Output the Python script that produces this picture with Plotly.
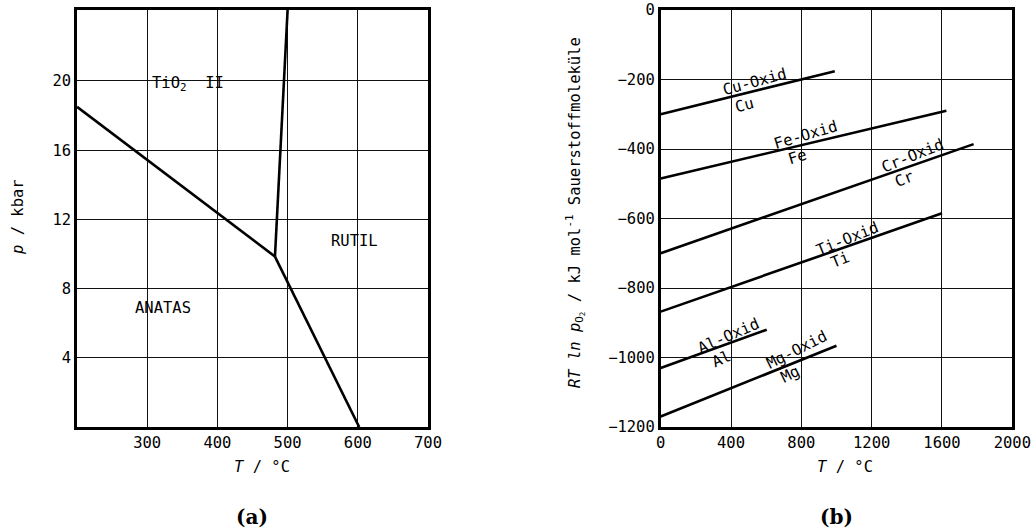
import plotly.graph_objects as go

# ---------------- data: panel (a) phase diagram TiO2 ----------------
a_line1_T = [200, 482]
a_line1_p = [18.5, 9.85]
a_line2_T = [482, 500]
a_line2_p = [9.85, 24.1]
a_line3_T = [482, 602]
a_line3_p = [9.85, 0]
a_xticks = [300, 400, 500, 600, 700]
a_yticks = [4, 8, 12, 16, 20]
a_labels = ["TiO<sub>2</sub>\u00a0\u00a0II", "RUTIL", "ANATAS"]
a_label_T = [358, 595, 322]
a_label_p = [19.8, 10.75, 6.9]

# ---------------- data: panel (b) Ellingham-type lines ----------------
b_names = ["Cu", "Fe", "Cr", "Ti", "Al", "Mg"]
b_T_start = [0, 0, 0, 0, 0, 0]
b_T_end = [990, 1625, 1780, 1600, 603, 1000]
b_y_start = [-300, -485, -700, -868, -1030, -1170]
b_y_end = [-176, -290, -386, -585, -920, -966]
b_oxid_T = [532, 826, 1431, 1061, 387, 773]
b_oxid_y = [-206, -360, -420, -660, -939, -977]
b_metal_T = [479, 777, 1389, 1020, 347, 741]
b_metal_y = [-272, -422, -487, -720, -1003, -1048]
b_angle = [-15, -16.5, -22, -21.8, -23.9, -26.8]
b_xticks = [0, 400, 800, 1200, 1600, 2000]
b_yticks = [0, -200, -400, -600, -800, -1000, -1200]

MONO = "DejaVu Sans Mono"
FS = 15.5
W, H = 1034, 532

fig = go.Figure()
lw = 2.6
for T, p in [(a_line1_T, a_line1_p), (a_line2_T, a_line2_p), (a_line3_T, a_line3_p)]:
    fig.add_trace(go.Scatter(x=T, y=p, mode="lines", line=dict(color="black", width=lw),
                             xaxis="x", yaxis="y", showlegend=False, hoverinfo="skip"))
for i in range(len(b_names)):
    fig.add_trace(go.Scatter(x=[b_T_start[i], b_T_end[i]], y=[b_y_start[i], b_y_end[i]],
                             mode="lines", line=dict(color="black", width=lw),
                             xaxis="x2", yaxis="y2", showlegend=False, hoverinfo="skip"))

ydom = [(H - 427) / H, (H - 10) / H]
xd1 = [77 / W, 428 / W]
xd2 = [660.7 / W, 1012.3 / W]

axis_common = dict(showline=True, linecolor="black", linewidth=2.6, mirror=True,
                   showgrid=True, gridcolor="#111", gridwidth=1, zeroline=False,
                   automargin=False, ticks="",
                   tickfont=dict(family=MONO, size=FS, color="black"))

fig.update_layout(
    template="none",
    width=W, height=H, margin=dict(l=0, r=0, t=0, b=0, autoexpand=False),
    paper_bgcolor="white", plot_bgcolor="white",
    font=dict(family=MONO, size=FS, color="black"),
    xaxis=dict(domain=xd1, range=[200, 700], tickvals=a_xticks, anchor="y", **axis_common),
    yaxis=dict(domain=ydom, range=[0, 24.1], tickvals=a_yticks, anchor="x", **axis_common),
    xaxis2=dict(domain=xd2, range=[0, 2000], tickvals=b_xticks, anchor="y2", **axis_common),
    yaxis2=dict(domain=ydom, range=[-1200, 0], tickvals=b_yticks, anchor="x2", **axis_common),
)

ann = []
for t, x, y in zip(a_labels, a_label_T, a_label_p):
    ann.append(dict(text=t, x=x, y=y, xref="x", yref="y", showarrow=False,
                    xanchor="center", yanchor="middle",
                    font=dict(family=MONO, size=FS, color="black")))
for i, n in enumerate(b_names):
    ann.append(dict(text=n + "-Oxid", x=b_oxid_T[i], y=b_oxid_y[i], xref="x2", yref="y2",
                    showarrow=False, textangle=b_angle[i], xanchor="center", yanchor="middle",
                    font=dict(family=MONO, size=FS, color="black")))
    ann.append(dict(text=n, x=b_metal_T[i], y=b_metal_y[i], xref="x2", yref="y2",
                    showarrow=False, textangle=b_angle[i], xanchor="center", yanchor="middle",
                    font=dict(family=MONO, size=FS, color="black")))


def paper_text(text, xc, yc, angle=0, font=None):
    return dict(text=text, x=xc / W, y=(H - yc) / H, xref="paper", yref="paper",
                xanchor="center", yanchor="middle", showarrow=False, textangle=angle,
                font=font or dict(family=MONO, size=FS, color="black"))


# axis titles
ann.append(paper_text("<i>p</i> / kbar", 18, 217, -90))
ann.append(paper_text("<i>T</i> / °C", 262, 467))
ann.append(paper_text("<i>T</i> / °C", 845, 467))
ann.append(paper_text("<i>RT ln p</i><sub>O<sub>2</sub></sub> / kJ mol<sup>-1</sup> Sauerstoffmoleküle",
                      575, 213, -90))
# panel captions
for lab, xc in [("(a)", 252), ("(b)", 836)]:
    ann.append(paper_text("<b>" + lab + "</b>", xc, 517,
                          font=dict(family="DejaVu Serif", size=20, color="black")))

fig.update_layout(annotations=ann)
fig.write_html("out.html")
